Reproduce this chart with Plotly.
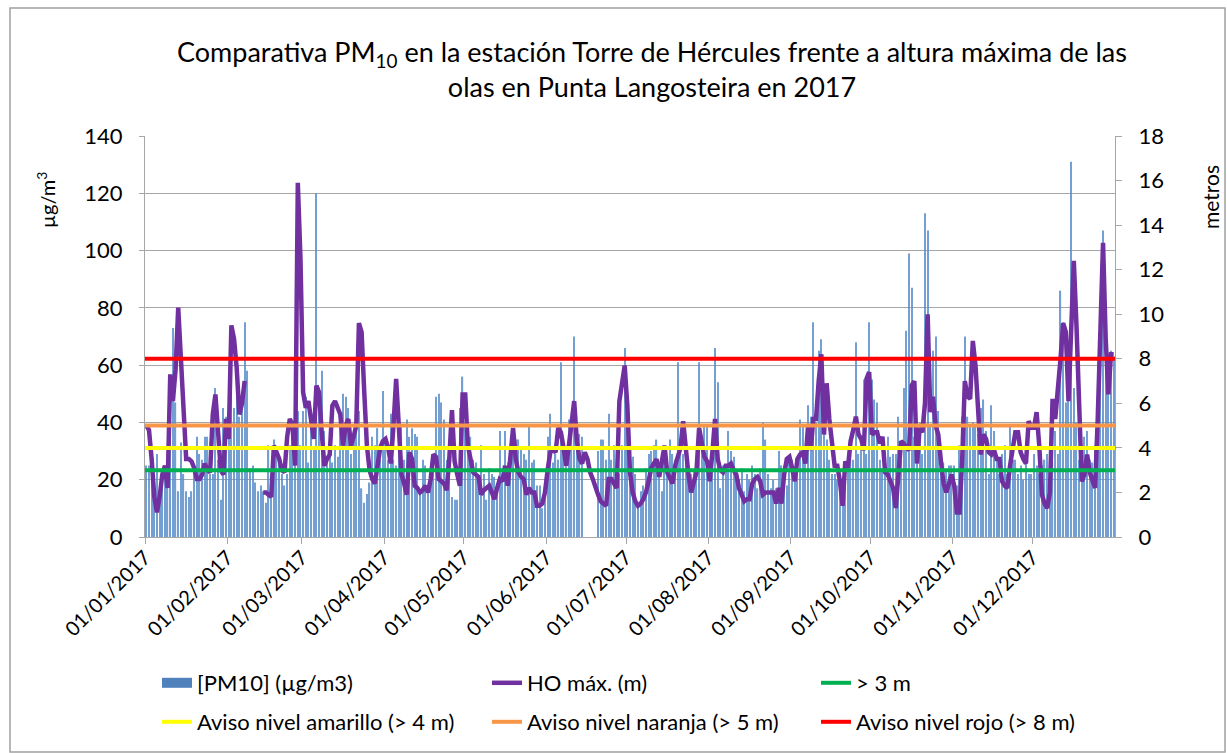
import pandas as pd
import plotly.graph_objects as go

# ---------------- data ----------------
pm10_jan = [25,25,22,20,29,18,22,25,20,42,73,47,16,33,22,16,14,16,24,35,29,27,35,35,22,22,52,27,13,45,42]
pm10_feb = [49,51,45,60,42,48,75,58,24,25,19,16,18,16,12,32,18,34,31,26,22,18,22,32,36,40,44,32]
pm10_mar = [44,49,26,39,31,120,52,58,37,27,28,26,32,28,41,50,49,45,29,34,44,44,17,12,15,19,35,32,38,27,51]
pm10_apr = [33,27,43,27,25,44,39,27,41,35,38,36,35,16,27,25,16,26,27,49,50,47,41,27,27,14,13,13,45,56]
pm10_may = [40,36,35,27,26,22,32,22,13,24,22,21,18,37,22,37,26,27,32,34,34,31,29,27,39,26,27,18,18,10,17]
pm10_jun = [35,43,26,29,27,61,34,27,41,41,70,32,36,35,None,None,None,None,None,30,34,34,27,43,27,32,32,22,32,66]
pm10_jul = [53,26,28,22,10,16,18,24,29,30,32,34,26,16,32,27,34,29,27,61,34,29,27,25,22,23,27,61,35,39,39]
pm10_aug = [25,26,66,54,17,25,25,37,30,28,22,20,24,16,22,20,25,22,17,24,40,34,22,17,20,17,30,25,25,18,26]
pm10_sep = [27,22,27,41,39,27,46,42,75,40,65,69,40,34,27,22,22,20,15,17,24,27,34,27,68,29,32,55,29,75]
pm10_oct = [55,48,47,27,24,22,35,28,29,29,42,27,52,72,99,87,35,32,40,29,113,107,39,65,70,44,32,26,24,25,25]
pm10_nov = [25,18,32,42,70,42,39,40,39,36,45,48,37,22,46,37,27,22,29,32,22,39,27,27,22,25,20,27,22,22]
pm10_dec = [29,25,22,25,27,29,25,26,37,29,86,75,47,52,131,52,40,27,32,35,37,27,26,32,35,52,107,65,57,65,63]

wave_jan = [5.0,4.8,3.5,1.8,1.1,1.8,2.8,3.2,2.2,7.3,6.1,7.5,10.3,8.0,5.0,3.5,3.5,3.4,3.1,2.6,2.6,2.8,3.3,3.0,2.9,5.5,6.4,4.5,3.0,2.8,5.3]
wave_feb = [4.4,9.5,8.9,7.6,5.5,6.0,7.0,None,None,None,None,None,None,2.0,2.0,1.9,1.8,4.1,3.8,3.5,3.0,2.9,4.5,5.3,5.0,3.2,15.9,12.5]
wave_mar = [6.5,5.8,6.1,5.3,4.4,6.8,6.5,4.7,3.2,3.5,3.7,5.9,6.1,5.8,5.5,4.1,5.0,5.3,4.1,4.5,5.0,9.6,9.2,6.5,4.1,3.0,2.6,2.4,3.4,4.0,4.3]
wave_apr = [4.4,4.0,3.3,5.0,7.1,5.0,2.8,2.4,1.9,3.8,3.5,2.3,2.2,2.0,2.1,2.3,2.0,2.6,3.7,3.6,2.6,2.5,2.4,2.1,3.5,5.7,3.4,2.8,2.3,6.4]
wave_may = [6.4,4.1,3.5,2.9,2.8,2.7,1.9,2.1,2.2,2.3,2.0,1.7,2.2,2.6,2.5,3.2,2.3,3.5,4.9,3.5,2.9,2.7,2.6,1.9,2.2,2.0,2.0,1.4,1.4,1.5,2.0]
wave_jun = [3.0,3.8,3.9,3.8,4.9,4.7,4.0,3.2,4.1,5.0,6.1,4.3,3.5,3.3,3.8,3.5,2.9,2.6,2.2,1.9,1.6,1.5,1.4,2.6,2.6,2.4,2.2,6.1,7.0,7.7]
wave_jul = [5.9,2.9,2.0,1.6,1.4,1.5,1.7,2.0,2.5,3.1,3.3,3.5,2.7,3.5,4.1,2.9,2.6,2.4,3.2,3.7,4.0,5.2,3.8,2.8,2.0,2.5,2.9,4.9,4.3,3.6,3.4]
wave_aug = [2.5,3.8,5.3,3.5,3.0,2.9,3.2,3.2,3.3,3.0,2.8,2.2,1.9,1.6,1.7,1.7,2.4,2.6,2.7,2.5,1.9,2.0,2.0,2.0,2.0,1.5,2.2,1.5,2.8,3.5,3.6]
wave_sep = [3.1,2.5,3.5,3.7,3.8,3.3,5.0,3.9,5.3,5.3,7.0,8.2,4.6,6.9,5.3,4.0,3.2,3.2,2.5,1.4,3.4,3.1,4.3,4.8,5.4,4.6,4.4,3.9,7.1,7.4]
wave_oct = [4.6,4.7,4.7,4.2,4.5,2.9,2.8,2.5,2.2,1.3,3.1,4.3,4.2,4.0,3.9,6.8,7.0,3.3,4.9,4.7,6.0,10.0,5.6,6.3,5.0,4.6,3.4,2.4,2.0,2.5,2.8]
wave_nov = [2.3,1.1,1.1,3.5,7.0,6.3,6.2,8.8,7.7,5.3,3.7,4.6,4.4,3.8,3.7,3.9,3.5,3.5,2.5,2.3,2.2,3.2,4.0,4.7,4.7,3.8,3.5,3.3,5.2,4.9]
wave_dec = [4.9,5.6,4.1,1.9,1.5,1.3,2.0,6.2,5.3,7.0,8.0,9.6,9.2,6.1,8.9,12.4,9.5,5.8,2.5,2.8,3.7,2.9,2.6,2.2,5.3,9.5,13.2,8.9,6.4,8.2,8.2]

threshold_names = ["> 3 m", "Aviso nivel amarillo (> 4 m)", "Aviso nivel naranja (> 5 m)", "Aviso nivel rojo (> 8 m)"]
threshold_values = [3, 4, 5, 8]
threshold_colors = ["#00B050", "#FFFF00", "#F79646", "#FF0000"]

month_ticks = ["01/01/2017","01/02/2017","01/03/2017","01/04/2017","01/05/2017","01/06/2017",
               "01/07/2017","01/08/2017","01/09/2017","01/10/2017","01/11/2017","01/12/2017"]

pm10 = (pm10_jan + pm10_feb + pm10_mar + pm10_apr + pm10_may + pm10_jun +
        pm10_jul + pm10_aug + pm10_sep + pm10_oct + pm10_nov + pm10_dec)
wave = (wave_jan + wave_feb + wave_mar + wave_apr + wave_may + wave_jun +
        wave_jul + wave_aug + wave_sep + wave_oct + wave_nov + wave_dec)

dates = pd.date_range("2017-01-01", "2017-12-31", freq="D")
xc = dates + pd.Timedelta(hours=12)
x_start = dates[0]
x_end = dates[-1] + pd.Timedelta(days=1)
tickvals = pd.to_datetime(month_ticks, format="%d/%m/%Y")

FONT = "Lato"
GRAY = "#A6A6A6"

W, H = 1227, 753
L, R, T, B = 145, 1115, 136, 537
pw, ph = R - L, B - T

def px(x):
    return (x - L) / pw

def py(y):
    return (B - y) / ph

# legend slots: (legend id, text-start x, row center y)
col_x = [197, 527, 856]
row_y = [683, 722]
slots = ["legend", "legend2", "legend3", "legend4", "legend5", "legend6"]

fig = go.Figure()
fig.add_trace(go.Bar(x=xc, y=pm10, marker=dict(color="#5B8FCB", line=dict(width=0)),
                     opacity=0.85, showlegend=False, name="[PM10] (µg/m3)"))
# legend proxy for bars
fig.add_trace(go.Scatter(x=[None], y=[None], mode="lines", name="[PM10] (µg/m3)",
                         line=dict(color="#4F81BD", width=14), legend=slots[0]))
fig.add_trace(go.Scatter(x=xc, y=wave, mode="lines", name="HO máx. (m)", yaxis="y2",
                         line=dict(color="#7030A0", width=4.5), connectgaps=False, legend=slots[1]))
for i, (nm, v, c) in enumerate(zip(threshold_names, threshold_values, threshold_colors)):
    fig.add_trace(go.Scatter(x=[x_start, x_end], y=[v, v], mode="lines", name=nm, yaxis="y2",
                             line=dict(color=c, width=4), legend=slots[2 + i]))

legends = {}
for k, lid in enumerate(slots):
    r, c = divmod(k, 3)
    legends[lid] = dict(orientation="h", x=px(col_x[c] - 40), xanchor="left",
                        y=py(row_y[r]), yanchor="middle", font=dict(size=22),
                        bgcolor="rgba(0,0,0,0)")

fig.update_layout(
    width=W, height=H,
    margin=dict(l=L, r=W - R, t=T, b=H - B, autoexpand=False),
    paper_bgcolor="white", plot_bgcolor="white",
    font=dict(family=FONT, color="#000000"),
    bargap=0.55,
    title=dict(text="Comparativa PM<sub>10</sub> en la estación Torre de Hércules frente a altura máxima de las<br>olas en Punta Langosteira en 2017",
               x=px(652), xref="paper", xanchor="center", y=1 - 62 / H, yref="container", yanchor="middle",
               font=dict(size=27, family=FONT)),
    xaxis=dict(type="date", range=[x_start, x_end], tickvals=tickvals, ticktext=month_ticks,
               tickangle=-45, tickfont=dict(size=20), ticks="outside", ticklen=6, tickcolor=GRAY,
               ticklabelstandoff=-6,
               showline=True, linecolor=GRAY, showgrid=False, zeroline=False, automargin=False),
    yaxis=dict(range=[0, 140], dtick=20, tickfont=dict(size=22), showgrid=True, gridcolor=GRAY,
               showline=True, linecolor=GRAY, ticks="outside", ticklen=5, tickcolor=GRAY,
               ticklabelstandoff=12, zeroline=False, automargin=False),
    yaxis2=dict(range=[0, 18], dtick=2, overlaying="y", side="right", tickfont=dict(size=22),
                showgrid=False, showline=True, linecolor=GRAY, ticks="outside", ticklen=6,
                tickcolor=GRAY, ticklabelstandoff=12, zeroline=False, automargin=False),
    annotations=[
        dict(text="µg/m<sup>3</sup>", x=px(46), y=py(200), xref="paper", yref="paper",
             xanchor="center", yanchor="middle",
             textangle=-90, showarrow=False, font=dict(size=20)),
        dict(text="metros", x=px(1210), y=py(197), xref="paper", yref="paper",
             xanchor="center", yanchor="middle",
             textangle=-90, showarrow=False, font=dict(size=21)),
    ],
    shapes=[dict(type="rect", xref="paper", yref="paper", x0=px(10), x1=px(1225), y0=py(8), y1=py(752),
                 line=dict(color="#A0A0A0", width=1.5), fillcolor="rgba(0,0,0,0)", layer="below")],
    **legends,
)

fig.write_html("out.html", config={"displayModeBar": False},
               post_script="document.body.style.margin='0';document.body.style.overflow='hidden';")
